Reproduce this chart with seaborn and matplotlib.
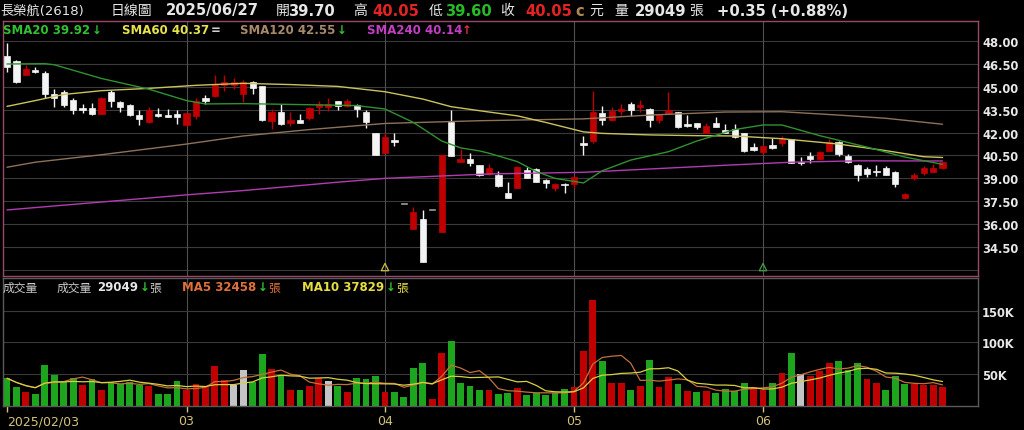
import numpy as np
import pandas as pd
import matplotlib
matplotlib.use('Agg')
import matplotlib.pyplot as plt
import matplotlib.transforms as mtransforms
import seaborn as sns

# 長榮航(2618) daily bars, 2025/02/03 .. 2025/06/27 (one entry per trading day)
opens = [47.05, 46.7, 45.8, 46.12, 45.9, 44.55, 44.65, 44.15, 43.6, 43.6,
         43.2, 44.65, 44.0, 43.8, 43.15, 42.7, 43.2, 43.15, 43.2, 42.5,
         43.1, 44.25, 44.4, 45.1, 45.15, 44.55, 45.3, 45.05, 42.75, 43.35,
         42.65, 42.8, 42.95, 43.65, 43.7, 44.05, 43.75, 43.8, 43.35, 42.0,
         40.65, 41.5, 37.3, 35.7, 36.35, 36.9, 35.5, 42.7, 40.05, 40.25,
         39.9, 39.3, 39.2, 38.05, 38.4, 39.55, 39.6, 38.9, 38.4, 38.65,
         38.65, 41.3, 41.45, 43.3, 42.8, 43.4, 43.85, 43.65, 43.55, 42.8,
         43.2, 43.35, 42.55, 42.6, 42.0, 42.65, 42.2, 42.25, 41.95, 41.05,
         40.7, 41.2, 41.3, 41.55, 40.1, 40.45, 40.3, 40.8, 41.4, 40.45,
         39.9, 39.6, 39.5, 39.65, 39.45, 37.7, 39.05, 39.35, 39.45, 39.7]
highs = [47.9, 46.75, 46.4, 46.3, 46.05, 44.85, 44.8, 44.3, 43.9, 43.95,
         44.35, 44.8, 44.05, 43.85, 43.45, 43.7, 43.6, 43.55, 43.5, 43.3,
         44.25, 44.45, 45.75, 45.75, 45.6, 45.45, 45.4, 45.05, 43.55, 43.85,
         43.35, 43.2, 43.65, 44.1, 44.3, 44.1, 44.2, 43.85, 43.5, 42.0,
         42.0, 42.0, 37.3, 37.1, 36.95, 36.9, 40.55, 43.5, 40.9, 40.65,
         39.9, 39.95, 39.5, 38.75, 39.8, 39.75, 39.65, 38.95, 38.7, 38.7,
         39.15, 41.8, 44.75, 43.75, 43.65, 43.85, 44.0, 44.15, 43.6, 43.25,
         44.65, 43.35, 43.15, 42.65, 42.6, 43.05, 42.55, 42.55, 42.0, 41.3,
         41.2, 41.65, 41.8, 41.55, 40.4, 40.7, 40.8, 41.55, 41.45, 40.6,
         39.95, 39.75, 39.85, 39.8, 39.5, 38.05, 39.35, 39.8, 39.95, 40.05]
lows = [46.0, 45.25, 45.75, 45.9, 44.3, 43.7, 43.7, 43.25, 43.3, 43.15,
        43.2, 43.7, 43.35, 43.1, 42.5, 42.6, 43.05, 43.0, 42.55, 42.45,
        42.9, 43.9, 44.35, 44.75, 44.85, 44.0, 44.5, 42.75, 42.25, 42.5,
        42.45, 42.6, 42.8, 43.25, 43.4, 43.45, 43.7, 43.0, 42.3, 40.5,
        40.65, 41.15, 37.3, 35.65, 33.55, 36.9, 35.5, 40.45, 40.05, 39.8,
        39.15, 39.25, 38.45, 37.7, 38.4, 39.05, 38.75, 38.35, 38.2, 38.05,
        38.4, 40.5, 41.3, 42.5, 42.75, 43.15, 43.1, 43.35, 42.35, 42.6,
        43.2, 42.3, 42.4, 42.25, 42.0, 42.35, 42.0, 41.65, 40.75, 40.8,
        40.6, 40.95, 41.1, 40.0, 39.9, 40.0, 40.3, 40.8, 40.45, 40.0,
        38.85, 39.1, 39.15, 39.2, 38.45, 37.65, 38.9, 39.2, 39.4, 39.6]
closes = [46.3, 45.3, 46.15, 46.0, 44.55, 44.3, 43.8, 43.45, 43.5, 43.2,
          44.3, 44.05, 43.7, 43.15, 42.9, 43.5, 43.1, 43.05, 43.0, 43.3,
          44.05, 44.1, 45.1, 45.3, 45.3, 45.3, 44.9, 42.8, 43.35, 42.55,
          42.85, 42.65, 43.6, 43.85, 43.85, 43.75, 44.05, 43.55, 42.7, 40.55,
          41.7, 41.4, 37.3, 36.8, 33.55, 36.9, 40.55, 40.45, 40.3, 40.0,
          39.2, 39.65, 38.5, 37.7, 39.75, 39.05, 38.75, 38.7, 38.65, 38.55,
          39.1, 41.2, 43.35, 42.85, 43.4, 43.55, 43.45, 43.8, 42.8, 43.2,
          43.5, 42.35, 42.45, 42.4, 42.45, 42.4, 42.0, 41.7, 40.8, 40.85,
          41.15, 41.0, 41.55, 40.0, 40.0, 40.25, 40.75, 41.4, 40.6, 40.05,
          39.2, 39.3, 39.4, 39.2, 38.65, 37.95, 39.2, 39.65, 39.7, 40.05]
prev_close = 47.2

# volume in 千張
vol_k = [43.3, 30.2, 21.4, 18.8, 64.0, 48.4, 37.0, 43.7, 32.8, 42.2,
         25.5, 37.0, 34.4, 38.0, 33.3, 31.8, 18.8, 18.8, 39.6, 24.0,
         34.4, 29.2, 63.0, 40.6, 32.8, 56.3, 37.0, 81.3, 57.8, 49.0,
         24.0, 24.0, 31.8, 43.3, 38.5, 30.7, 22.4, 43.3, 42.2, 47.4,
         21.4, 21.4, 13.5, 58.9, 66.7, 9.9, 82.8, 102.0, 35.9, 30.7,
         25.0, 25.0, 17.7, 19.8, 27.4, 17.4, 19.6, 17.4, 19.6, 26.4,
         30.0, 85.9, 167.4, 71.0, 36.3, 36.3, 25.3, 30.6, 72.6, 29.0,
         44.8, 34.3, 23.7, 21.1, 23.7, 20.0, 26.4, 23.7, 35.8, 30.0,
         24.7, 35.3, 51.6, 82.7, 50.0, 47.4, 55.3, 67.0, 70.1, 56.4,
         68.0, 42.0, 36.0, 24.0, 47.0, 35.0, 34.5, 33.0, 32.8, 29.049]

# moving averages (bar index, value)
sma20_idx = [0, 4, 5, 10, 15, 19, 21, 25, 30, 37, 40, 43, 46, 48, 50, 51, 54, 56, 58,
             61, 63, 66, 70, 73, 77, 80, 82, 86, 91, 95, 99]
sma20_val = [46.5, 46.52, 46.45, 45.55, 44.85, 44.1, 43.88, 43.9, 43.85, 43.77, 43.55,
             42.67, 41.45, 41.0, 40.8, 40.65, 40.1, 39.45, 39.0, 38.7, 39.5, 40.2, 40.75,
             41.45, 42.2, 42.5, 42.5, 41.8, 41.05, 40.4, 39.92]
sma60_idx = [0, 3, 6, 10, 15, 20, 25, 30, 35, 40, 44, 47, 51, 54, 57, 61, 63, 68, 73,
             77, 82, 88, 93, 97, 99]
sma60_val = [43.72, 44.1, 44.5, 44.75, 44.9, 45.1, 45.23, 45.15, 45.03, 44.68, 44.2,
             43.7, 43.35, 43.1, 42.67, 42.05, 41.95, 41.85, 41.8, 41.78, 41.6, 41.25,
             40.82, 40.42, 40.37]
sma120_idx = [0, 3, 10, 19, 25, 32, 40, 50, 61, 68, 76, 82, 88, 93, 99]
sma120_val = [39.73, 40.06, 40.55, 41.25, 41.78, 42.2, 42.6, 42.78, 42.9, 43.15, 43.35,
              43.37, 43.15, 42.94, 42.55]
sma240_idx = [0, 19, 25, 35, 40, 51, 61, 76, 83, 90, 99]
sma240_val = [36.93, 37.92, 38.2, 38.75, 39.0, 39.29, 39.4, 39.86, 40.06, 40.15, 40.14]

month_idx = [0, 19, 40, 60, 80]
month_lbl = ['2025/02/03', '03', '04', '05', '06']
mark_idx = [40, 80]

price_ticks = [33.0, 34.5, 36.0, 37.5, 39.0, 40.5, 42.0, 43.5, 45.0, 46.5, 48.0]
vol_ticks = [50000, 100000, 150000]
vol_tick_lbl = ['50K', '100K', '150K']

df = pd.DataFrame({'i': np.arange(len(closes)), 'open': opens, 'high': highs,
                   'low': lows, 'close': closes, 'vol': np.array(vol_k) * 1000})
prevc = df['close'].shift(1).fillna(prev_close)
d = (df['close'] - prevc).round(3)
df['vdir'] = np.where(d > 0, 'up', np.where(d < 0, 'down', 'flat'))
b = (df['close'] - df['open']).round(3)
df['cdir'] = np.where(b > 0, 'up', np.where(b < 0, 'down', 'flat'))
df['ma5'] = df['vol'].rolling(5, min_periods=1).mean()
df['ma10'] = df['vol'].rolling(10, min_periods=1).mean()

sns.set_theme(style='dark', rc={'figure.facecolor': 'black', 'axes.facecolor': 'black'})
plt.rcParams['font.family'] = ['DejaVu Sans', 'Noto Sans CJK TC']

W, H = 1024, 431
fig = plt.figure(figsize=(W / 100, H / 100), dpi=100)
fig.patch.set_facecolor('black')
ax = fig.add_axes([3 / W, 1 - 277 / H, 975 / W, 255.5 / H])
axv = fig.add_axes([3 / W, 1 - 406.7 / H, 975 / W, 127.7 / H], sharex=ax)

RED, WHITE, FLAT = '#c00000', '#f4f4f4', '#9a9a9a'
GRID = '#3a3a3a'

# price grid
ax.set_ylim(32.6, 49.35)
ax.set_yticks(price_ticks)
ax.set_yticklabels(['' if v == 33.0 else f'{v:.2f}' for v in price_ticks])
for v in price_ticks:
    ax.axhline(v, color=GRID, lw=0.8, zorder=0)
for m in month_idx[1:]:
    ax.axvline(m, color='#505050', lw=0.8, zorder=0)
    axv.axvline(m, color='#505050', lw=0.8, zorder=0)

# candles
ccol = df['cdir'].map({'up': RED, 'down': WHITE, 'flat': FLAT})
ax.vlines(df['i'], df['low'], df['high'], colors=ccol, lw=1, zorder=2)
body_lo = np.minimum(df['open'], df['close'])
body_h = np.maximum((df['close'] - df['open']).abs(), 0.07)
ax.bar(df['i'], body_h, bottom=body_lo, width=0.66, color=ccol, edgecolor=ccol,
       lw=0.5, zorder=3)

# price moving averages
sns.lineplot(x=sma120_idx, y=sma120_val, ax=ax, color='#8e7258', lw=1, zorder=4)
sns.lineplot(x=sma60_idx, y=sma60_val, ax=ax, color='#c9c35c', lw=1, zorder=4)
sns.lineplot(x=sma240_idx, y=sma240_val, ax=ax, color='#b03cb0', lw=1, zorder=4)
sns.lineplot(x=sma20_idx, y=sma20_val, ax=ax, color='#2f922f', lw=1, zorder=4)

trans = mtransforms.blended_transform_factory(ax.transData, ax.transAxes)
ax.scatter(mark_idx, [0.035, 0.035], marker='^', s=28, facecolors='none',
           edgecolors=['#c8be3c', '#3fa03f'], linewidths=0.9, transform=trans, zorder=5)

# volume
axv.set_ylim(0, 201600)
axv.set_yticks(vol_ticks)
axv.set_yticklabels(vol_tick_lbl)
for v in vol_ticks:
    axv.axhline(v, color=GRID, lw=0.8, zorder=0)
sns.barplot(data=df, x='i', y='vol', hue='vdir', native_scale=True, dodge=False,
            palette={'up': '#c00000', 'down': '#1ea51e', 'flat': '#c4c4c4'},
            width=0.72, linewidth=0, saturation=1, errorbar=None, legend=False,
            ax=axv, zorder=2)
sns.lineplot(data=df, x='i', y='ma5', ax=axv, color='#c4703a', lw=0.9, zorder=4)
sns.lineplot(data=df, x='i', y='ma10', ax=axv, color='#d6d040', lw=0.9, zorder=4)

ax.set_xlim(-0.42, 102.75)
axv.set_xticks(month_idx)
axv.set_xticklabels(month_lbl)
axv.get_xticklabels()[0].set_ha('left')
axv.tick_params(axis='x', colors='#d4c27a', length=4, width=1, labelsize=9, pad=2,
                direction='out', bottom=True)
ax.tick_params(axis='x', length=0, labelbottom=False)

for a in (ax, axv):
    a.set_xlabel('')
    a.set_ylabel('')
    a.grid(False)
    a.yaxis.tick_right()
    a.tick_params(axis='y', length=0, pad=3, labelcolor='#e8e8e8', labelsize=8.3)
    for t in a.get_yticklabels():
        t.set_fontweight('bold')
for s in ax.spines.values():
    s.set_color('#9c4868')
    s.set_linewidth(1)
for s in axv.spines.values():
    s.set_color('#5a5a5a')
    s.set_linewidth(1)


def htxt(x, y, s, c, size=10, bold=False):
    fig.text(x / W, 1 - y / H, s, color=c, fontsize=size,
             fontweight='bold' if bold else 'normal', ha='left', va='center')


# header line
LT = '#e6e6e6'
htxt(0, 11, '長榮航(2618)', LT, 9.5)
htxt(111, 11, '日線圖', LT, 10)
htxt(166, 11, '2025/06/27', LT, 10.6, True)
htxt(276, 11, '開', LT, 10)
htxt(288, 11, f'{opens[-1]:.2f}', LT, 10.6, True)
htxt(353, 11, '高', LT, 10)
htxt(372, 11, f'{highs[-1]:.2f}', '#e52222', 10.6, True)
htxt(429, 11, '低', LT, 10)
htxt(445, 11, f'{lows[-1]:.2f}', '#26bb26', 10.6, True)
htxt(500, 11, '收', LT, 10)
htxt(525, 11, f'{closes[-1]:.2f}', '#e52222', 10.6, True)
htxt(575, 11, 'c', '#b08850', 10.6, True)
htxt(589, 11, '元', LT, 10)
htxt(614, 11, '量', LT, 10)
htxt(635, 11, '29049', LT, 10.6, True)
htxt(689, 11, '張', LT, 10)
htxt(717, 11, '+0.35 (+0.88%)', LT, 10.6, True)

# SMA legend line
htxt(3, 30, 'SMA20 39.92', '#2fc12f', 8.5, True)
htxt(92, 30, '↓', '#2fc12f', 8.5, True)
htxt(122, 30, 'SMA60 40.37', '#e5e24c', 8.5, True)
htxt(211, 30, '=', '#d0d0d0', 8.5, True)
htxt(240, 30, 'SMA120 42.55', '#a88a6a', 8.5, True)
htxt(337, 30, '↓', '#2fc12f', 8.5, True)
htxt(367, 30, 'SMA240 40.14', '#c23ec2', 8.5, True)
htxt(462, 30, '↑', '#e03030', 8.5, True)

# volume legend line
htxt(3, 288, '成交量', '#c8c8c8', 8.5)
htxt(57, 288, '成交量', '#c8c8c8', 8.5)
htxt(97, 288, '29049', LT, 8.5, True)
htxt(140, 288, '↓', '#2fc12f', 8.5, True)
htxt(149, 288, '張', '#c8c8c8', 8.5)
htxt(182, 288, 'MA5 32458', '#e0703a', 8.5, True)
htxt(258, 288, '↓', '#2fc12f', 8.5, True)
htxt(268, 288, '張', '#e0703a', 8.5)
htxt(302, 288, 'MA10 37829', '#e6de40', 8.5, True)
htxt(386, 288, '↓', '#2fc12f', 8.5, True)
htxt(396, 288, '張', '#e6de40', 8.5)

fig.savefig('out.png', dpi=100, facecolor='black')
